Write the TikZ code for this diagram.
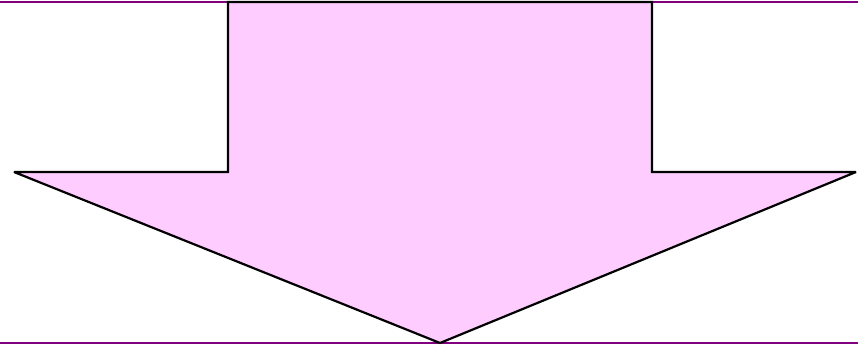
\documentclass[tikz,border=0pt]{standalone}
\definecolor{rulepurple}{RGB}{128,0,128}
\definecolor{arrowpink}{RGB}{255,204,255}
\tikzset{
  rule/.style={draw=rulepurple, line width=2.2pt},
  bigarrow/.style={draw=black, fill=arrowpink, line width=2.2pt, line join=miter, miter limit=3}
}
\begin{document}
\begin{tikzpicture}[x=1pt,y=-1pt]
\useasboundingbox (0,0) rectangle (858,347);
\draw[rule] (0,2) -- (858,2);
\draw[rule] (0,343) -- (858,343);
\draw[bigarrow] (228,2) -- (652,2) -- (652,172) -- (856,172) -- (440,343) -- (14,172) -- (228,172) -- cycle;
\end{tikzpicture}
\end{document}
